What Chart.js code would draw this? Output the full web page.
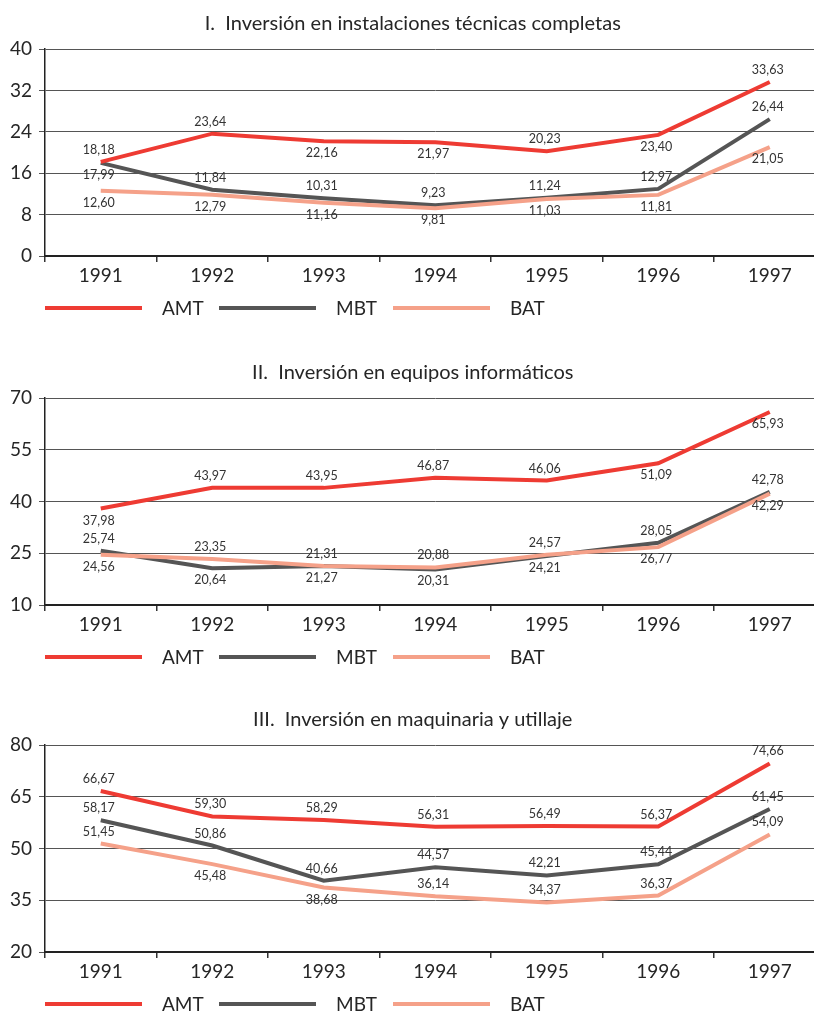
<!DOCTYPE html>
<html lang="es">
<head>
<meta charset="utf-8">
<title>Inversión AMT / MBT / BAT 1991-1997</title>
<script src="https://cdn.jsdelivr.net/npm/chart.js@4.4.1/dist/chart.umd.min.js"></script>
<style>
  html, body { margin: 0; padding: 0; background: #ffffff; overflow: hidden; }
  #wrap { position: relative; width: 814px; height: 1012px; overflow: hidden; }
  .panel { position: absolute; left: 0; }
</style>
</head>
<body>
<div id="wrap">
  <canvas id="c1" class="panel" style="top:0px"></canvas>
  <canvas id="c2" class="panel" style="top:349px"></canvas>
  <canvas id="c3" class="panel" style="top:696px"></canvas>
</div>
<script>
// ---- data -------------------------------------------------------------
const years = ['1991', '1992', '1993', '1994', '1995', '1996', '1997'];
const seriesNames = ['AMT', 'MBT', 'BAT'];

// I. Inversión en instalaciones técnicas completas
const instAMT = [18.18, 23.64, 22.16, 21.97, 20.23, 23.40, 33.63];
const instMBT = [17.99, 12.79, 11.16, 9.81, 11.24, 12.97, 26.44];
const instBAT = [12.60, 11.84, 10.31, 9.23, 11.03, 11.81, 21.05];
const instTicks = [0, 8, 16, 24, 32, 40];

// II. Inversión en equipos informáticos
const infoAMT = [37.98, 43.97, 43.95, 46.87, 46.06, 51.09, 65.93];
const infoMBT = [25.74, 20.64, 21.27, 20.31, 24.21, 28.05, 42.78];
const infoBAT = [24.56, 23.35, 21.31, 20.88, 24.57, 26.77, 42.29];
const infoTicks = [10, 25, 40, 55, 70];

// III. Inversión en maquinaria y utillaje
const maqAMT = [66.67, 59.30, 58.29, 56.31, 56.49, 56.37, 74.66];
const maqMBT = [58.17, 50.86, 40.66, 44.57, 42.21, 45.44, 61.45];
const maqBAT = [51.45, 45.48, 38.68, 36.14, 34.37, 36.37, 54.09];
const maqTicks = [20, 35, 50, 65, 80];

// ---- value-label placement (1 = above the line, -1 = below) ------------
const instSides = [[1, 1, -1, -1, 1, -1, 1], [-1, -1, -1, -1, 1, 1, 1], [-1, 1, 1, 1, -1, -1, -1]];
const infoSides = [[-1, 1, 1, 1, 1, -1, -1], [1, -1, -1, -1, -1, 1, 1], [-1, 1, 1, 1, 1, -1, -1]];
const maqSides  = [[1, 1, 1, 1, 1, 1, 1], [1, 1, 1, 1, 1, 1, 1], [1, -1, -1, 1, 1, 1, 1]];

// ---- styles -----------------------------------------------------------
const FONT = 'Lato, "Open Sans", "DejaVu Sans", sans-serif';
const seriesColors = ['#ee3b33', '#555555', '#f5a189'];
const drawOrder = [0, 2, 1];          // red on top, salmon over grey
const TEXT = '#262626';

// number formatting with decimal comma
const fmt = v => v.toFixed(2).replace('.', ',');

// value labels next to each point, pushed clear of neighbouring lines
const valueLabels = {
  id: 'valueLabels',
  afterDatasetsDraw(chart, args, opts) {
    const ctx = chart.ctx;
    const metas = chart.data.datasets.map((d, i) => chart.getDatasetMeta(i));
    ctx.save();
    ctx.font = '12.5px ' + FONT;
    ctx.fillStyle = '#333333';
    ctx.textAlign = 'center';
    ctx.textBaseline = 'middle';
    chart.data.datasets.forEach((ds, di) => {
      metas[di].data.forEach((pt, i) => {
        const side = opts.sides[di][i];
        let top = pt.y, bottom = pt.y;
        metas.forEach(m => {
          const y = m.data[i].y;
          if (Math.abs(y - pt.y) < 10) { top = Math.min(top, y); bottom = Math.max(bottom, y); }
        });
        const y = side > 0 ? top - 12 : bottom + 12;
        ctx.fillText(fmt(ds.data[i]), pt.x - 2, y);
      });
    });
    ctx.restore();
  }
};

// legend: long line swatch followed by the series name
const lineLegend = {
  id: 'lineLegend',
  afterDraw(chart) {
    const ctx = chart.ctx;
    const y = chart.chartArea.bottom + 52;
    ctx.save();
    ctx.font = '19px ' + FONT;
    ctx.fillStyle = TEXT;
    ctx.textAlign = 'left';
    ctx.textBaseline = 'middle';
    chart.data.datasets.forEach((ds, i) => {
      const x0 = chart.chartArea.left + i * 174;
      ctx.fillStyle = ds.borderColor;
      ctx.fillRect(x0, y - 2, 97, 4);
      ctx.fillStyle = TEXT;
      ctx.fillText(ds.label, x0 + 117, y + 1);
    });
    ctx.restore();
  }
};

function makeChart(id, height, title, values, ticks, sides) {
  const canvas = document.getElementById(id);
  canvas.width = 834;
  canvas.height = height;
  canvas.style.width = '834px';
  canvas.style.height = height + 'px';
  return new Chart(canvas, {
    type: 'line',
    data: {
      labels: years,
      datasets: values.map((v, i) => ({
        label: seriesNames[i],
        data: v,
        borderColor: seriesColors[i],
        backgroundColor: seriesColors[i],
        borderWidth: 4,
        pointRadius: 0,
        pointHoverRadius: 0,
        tension: 0,
        borderCapStyle: 'butt',
        borderJoinStyle: 'miter',
        fill: false,
        order: drawOrder[i]
      }))
    },
    options: {
      responsive: false,
      animation: false,
      events: [],
      layout: { padding: { left: 0, right: 8.5, top: 0, bottom: height - 286 } },
      plugins: {
        legend: { display: false },
        tooltip: { enabled: false },
        title: {
          display: true,
          text: title,
          color: TEXT,
          font: { family: FONT, size: 20, weight: 'normal', lineHeight: 1.2 },
          padding: { top: 12, bottom: 13 }
        },
        valueLabels: { sides: sides }
      },
      scales: {
        x: {
          type: 'category',
          offset: true,
          afterFit: s => { s.height = 30; },
          grid: { offset: true, drawOnChartArea: false, drawTicks: true, tickLength: 6, color: '#333333', lineWidth: 1.5 },
          border: { display: true, color: '#222222', width: 2 },
          ticks: { color: TEXT, padding: 2, font: { family: FONT, size: 19 } }
        },
        y: {
          min: ticks[0],
          max: ticks[ticks.length - 1],
          afterFit: s => { s.width = 45; },
          afterBuildTicks: s => { s.ticks = ticks.map(v => ({ value: v })); },
          grid: { color: '#555555', lineWidth: 1, drawTicks: true, tickLength: 6 },
          border: { display: true, color: '#222222', width: 1.5 },
          ticks: { color: TEXT, padding: 7, font: { family: FONT, size: 19 } }
        }
      }
    },
    plugins: [valueLabels, lineLegend]
  });
}

makeChart('c1', 335, 'I.  Inversión en instalaciones técnicas completas',
  [instAMT, instMBT, instBAT], instTicks, instSides);
makeChart('c2', 335, 'II.  Inversión en equipos informáticos',
  [infoAMT, infoMBT, infoBAT], infoTicks, infoSides);
makeChart('c3', 316, 'III.  Inversión en maquinaria y utillaje',
  [maqAMT, maqMBT, maqBAT], maqTicks, maqSides);
</script>
</body>
</html>
